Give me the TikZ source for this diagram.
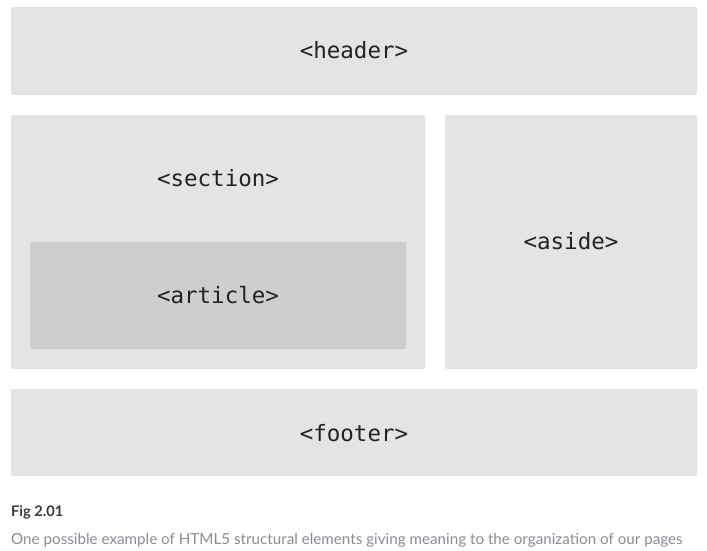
\documentclass[tikz,border=0pt]{standalone}
\usepackage{fontspec}
\setmainfont{Lato}
\newfontfamily\codefont{DejaVu Sans Mono}
\definecolor{boxgray}{HTML}{E4E4E4}
\definecolor{artgray}{HTML}{CECECE}
\definecolor{codetext}{HTML}{222222}
\definecolor{capdark}{HTML}{3A3A3A}
\definecolor{capgray}{HTML}{8C8C94}
\begin{document}
\begin{tikzpicture}[x=1pt,y=-1pt,
  block/.style={fill=boxgray,draw=none,rounded corners=2pt},
  inner/.style={fill=artgray,draw=none,rounded corners=2pt},
  code/.style={font=\codefont\fontsize{22.5}{26}\selectfont,text=codetext,inner sep=0pt,anchor=base}]
\useasboundingbox (0,0) rectangle (707,551);
\fill[white] (0,0) rectangle (707,551);
\path[block] (11,7) rectangle (697,95);
\path[block] (11,115) rectangle (425,369);
\path[block] (445,115) rectangle (697,369);
\path[inner] (30,242) rectangle (406,349);
\path[block] (11,389) rectangle (697,476);
\node[code] (header) at (354,59) {<header>};
\node[code] (section) at (218,186) {<section>};
\node[code] (article) at (218,303) {<article>};
\node[code] (aside) at (571,249) {<aside>};
\node[code] (footer) at (354,441) {<footer>};
\node[anchor=base west,inner sep=0pt,text=capdark,font=\bfseries\fontsize{14.6}{16}\selectfont] (fig) at (11,516) {Fig 2.01};
\node[anchor=base west,inner sep=0pt,text=capgray,font=\fontsize{15.2}{18}\selectfont] (cap) at (11,544) {One possible example of HTML5 structural elements giving meaning to the organization of our pages};
\end{tikzpicture}
\end{document}
